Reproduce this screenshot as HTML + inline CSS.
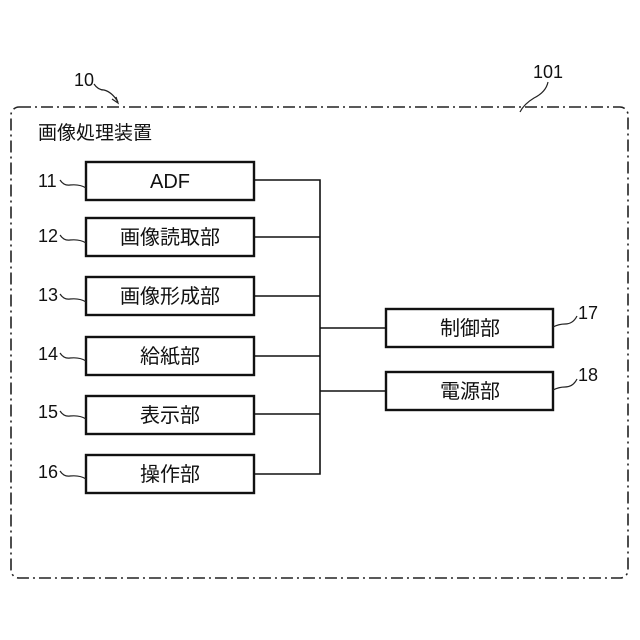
<!DOCTYPE html>
<html><head><meta charset="utf-8"><style>
html,body{margin:0;padding:0;background:#fff;}
svg{display:block}
text{font-family:"Liberation Sans","Noto Sans CJK JP",sans-serif;fill:#111;}
</style></head><body>
<svg width="640" height="640" viewBox="0 0 640 640" xmlns="http://www.w3.org/2000/svg">
<rect x="11" y="107" width="617" height="471" rx="8" ry="8" fill="none" stroke="#222" stroke-width="1.6" stroke-dasharray="12,4,2,4"/>
<text x="74" y="86" font-size="18">10</text>
<path d="M94 84 q4 6 10 6 q8 2 14 12" fill="none" stroke="#222" stroke-width="1.2"/>
<path d="M112 99 l6 4 l-2 -6" fill="none" stroke="#222" stroke-width="1.2"/>
<text x="533" y="78" font-size="18">101</text>
<path d="M548 82 q-2 10 -14 16 q-10 6 -14 14" fill="none" stroke="#222" stroke-width="1.2"/>
<text x="38" y="139" font-size="19">画像処理装置</text>
<g fill="none" stroke="#111" stroke-width="2.4">
<rect x="86" y="162" width="168" height="38"/>
<rect x="86" y="218" width="168" height="38"/>
<rect x="86" y="277" width="168" height="38"/>
<rect x="86" y="337" width="168" height="38"/>
<rect x="86" y="396" width="168" height="38"/>
<rect x="86" y="455" width="168" height="38"/>
<rect x="386" y="309" width="167" height="38"/>
<rect x="386" y="372" width="167" height="38"/>
</g>
<g fill="none" stroke="#111" stroke-width="1.6">
<path d="M254 180 H320 V474 H254"/>
<path d="M254 237 H320 M254 296 H320 M254 356 H320 M254 414 H320"/>
<path d="M320 328 H386 M320 391 H386"/>
</g>
<g fill="none" stroke="#222" stroke-width="1.2">
<path d="M60 180 q4 6 10 5 q10 -1 16 3"/>
<path d="M60 235 q4 6 10 5 q10 -1 16 3"/>
<path d="M60 294 q4 6 10 5 q10 -1 16 3"/>
<path d="M60 353 q4 6 10 5 q10 -1 16 3"/>
<path d="M60 411 q4 6 10 5 q10 -1 16 3"/>
<path d="M60 471 q4 6 10 5 q10 -1 16 3"/>
<path d="M553 327 q6 -3 12 -3 q8 0 12 -8"/>
<path d="M553 390 q6 -3 12 -3 q8 0 12 -8"/>
</g>
<g font-size="18">
<text x="38" y="187">11</text>
<text x="38" y="242">12</text>
<text x="38" y="301">13</text>
<text x="38" y="360">14</text>
<text x="38" y="418">15</text>
<text x="38" y="478">16</text>
<text x="578" y="319">17</text>
<text x="578" y="381">18</text>
</g>
<g font-size="20" text-anchor="middle">
<text x="170" y="188">ADF</text>
<text x="170" y="244">画像読取部</text>
<text x="170" y="303">画像形成部</text>
<text x="170" y="363">給紙部</text>
<text x="170" y="422">表示部</text>
<text x="170" y="481">操作部</text>
<text x="470" y="335">制御部</text>
<text x="470" y="398">電源部</text>
</g>
</svg>
</body></html>
